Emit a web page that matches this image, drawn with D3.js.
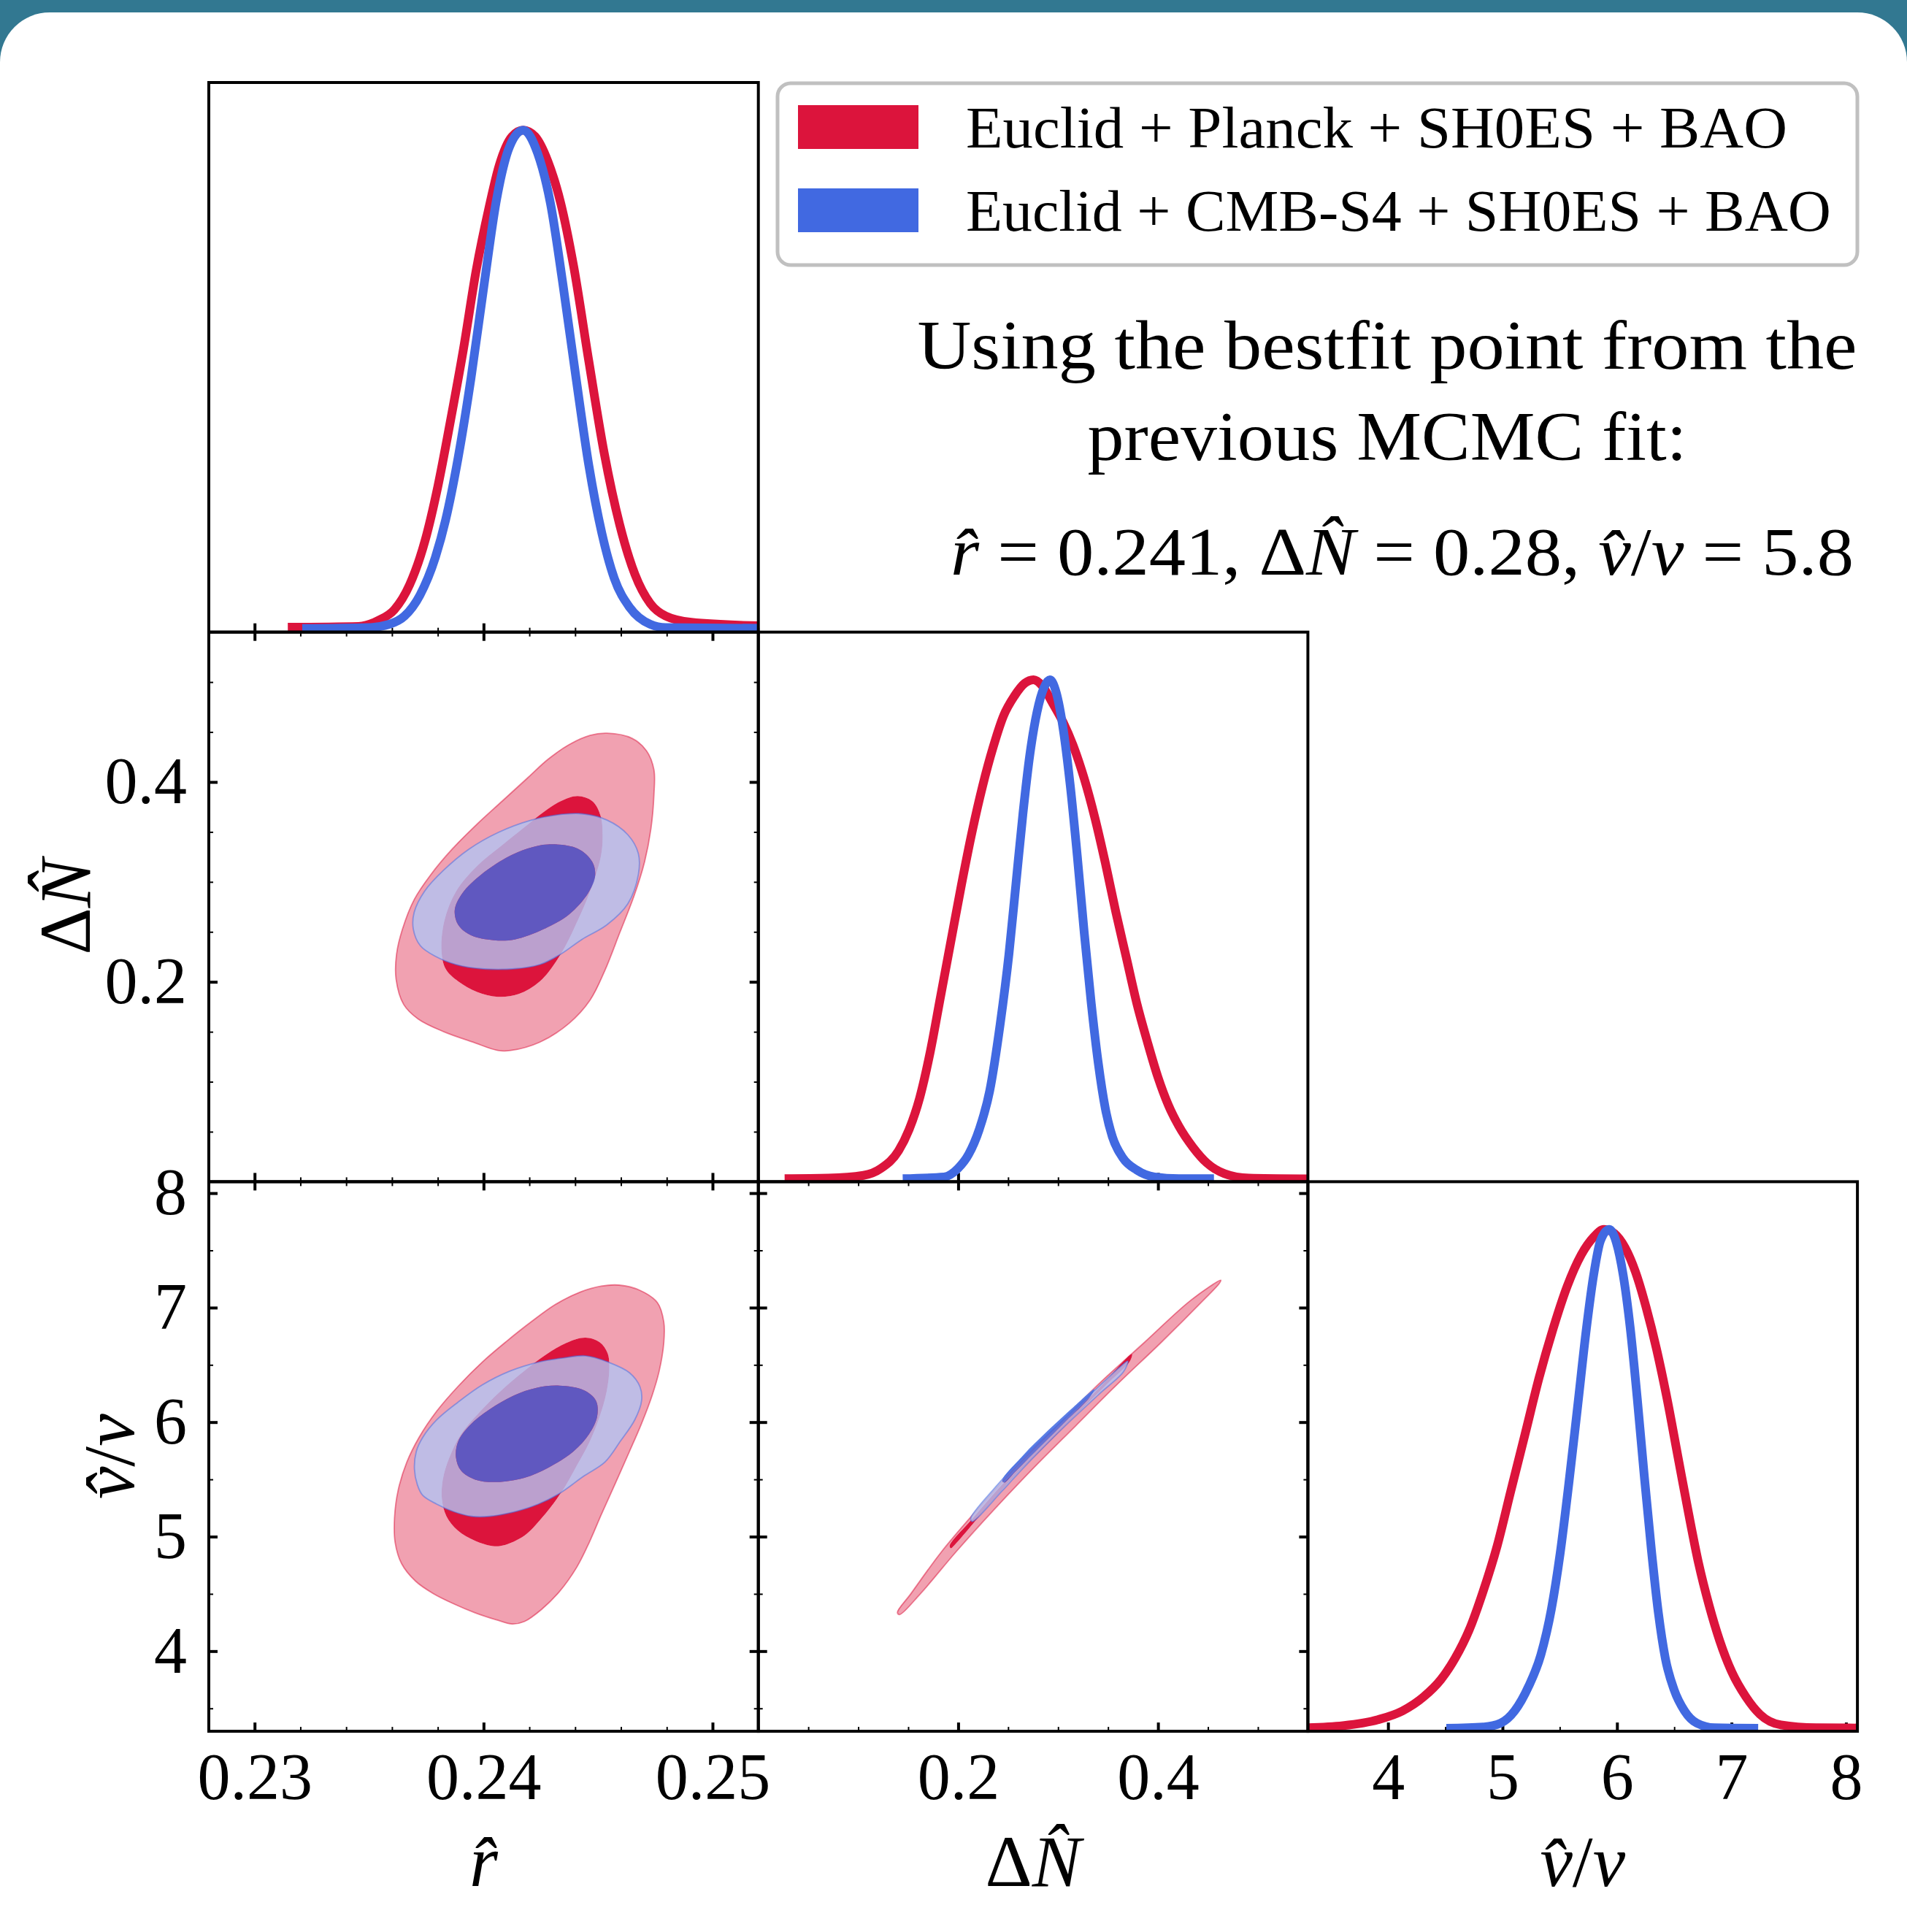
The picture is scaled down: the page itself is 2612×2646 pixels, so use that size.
<!DOCTYPE html>
<html><head><meta charset="utf-8">
<script src="https://cdn.jsdelivr.net/npm/d3@7"></script>
<style>html,body{margin:0;padding:0;background:#327891;} svg{display:block}</style>
</head><body>
<svg id="chart" width="2612" height="2646"></svg>
<script>
// ================= DATA =================
const seriesNames = ["Euclid + Planck + SH0ES + BAO", "Euclid + CMB-S4 + SH0ES + BAO"];
const seriesColors = ["#DC143C", "#4169E1"];
const seriesPale = ["#f1a1b1", "#b3c3f3"];

const rRange = [0.228, 0.252];
const dnRange = [0.0, 0.55];
const vRange = [3.3, 8.1];
const pdfRange = [0, 1.095];

const rTicks = [0.23, 0.24, 0.25];
const rTickLabels = ["0.23", "0.24", "0.25"];
const dnTicks = [0.2, 0.4];
const dnTickLabels = ["0.2", "0.4"];
const vTicks = [4, 5, 6, 7, 8];
const vTickLabels = ["4", "5", "6", "7", "8"];

const titleLines = ["Using the bestfit point from the", "previous MCMC fit:"];
const bestfitParts = [["r\u0302", true], [" = 0.241, \u0394", false], ["N\u0302", true], [" = 0.28, ", false], ["v\u0302", true], ["/", false], ["v", true], [" = 5.8", false]];

// 1D marginals [x, normalised density]
const planck_r1D = [[0.23145,0.0096],[0.23454,0.0113],[0.23543,0.0237],[0.23610,0.0445],[0.23677,0.0943],[0.23744,0.1816],[0.23800,0.2896],[0.23856,0.4224],[0.23912,0.5637],[0.23968,0.7215],[0.24024,0.8462],[0.24068,0.9292],[0.24124,0.9874],[0.24173,1.0],[0.24225,0.9874],[0.24281,0.9376],[0.24337,0.8545],[0.24393,0.7298],[0.24460,0.5388],[0.24527,0.3560],[0.24594,0.2148],[0.24661,0.1150],[0.24728,0.0570],[0.24795,0.0320],[0.24907,0.0195],[0.25200,0.0125]];
const cmbs4_r1D = [[0.23208,0.0071],[0.23498,0.0090],[0.23588,0.0155],[0.23655,0.0320],[0.23722,0.0735],[0.23789,0.1483],[0.23834,0.2231],[0.23889,0.3477],[0.23945,0.5056],[0.24001,0.6883],[0.24057,0.8628],[0.24113,0.9666],[0.24173,1.0],[0.24236,0.9541],[0.24292,0.8545],[0.24348,0.6883],[0.24404,0.5056],[0.24460,0.3311],[0.24516,0.1982],[0.24571,0.1068],[0.24639,0.0486],[0.24728,0.0155],[0.24795,0.0090],[0.25200,0.0075]];
const planck_dn1D = [[0.0263,0.0060],[0.0702,0.0070],[0.1052,0.0126],[0.1228,0.0266],[0.1403,0.0615],[0.1508,0.1035],[0.1614,0.1664],[0.1719,0.2573],[0.1824,0.3692],[0.1929,0.4811],[0.2034,0.5930],[0.2140,0.6979],[0.2245,0.7888],[0.2350,0.8657],[0.2455,0.9287],[0.2561,0.9671],[0.2666,0.9930],[0.2754,1.0],[0.2841,0.9881],[0.2946,0.9531],[0.3052,0.9147],[0.3157,0.8657],[0.3262,0.8028],[0.3367,0.7259],[0.3473,0.6350],[0.3578,0.5371],[0.3683,0.4462],[0.3788,0.3552],[0.3894,0.2783],[0.3999,0.2084],[0.4104,0.1524],[0.4209,0.1105],[0.4350,0.0685],[0.4490,0.0371],[0.4665,0.0161],[0.4911,0.0070],[0.5500,0.0055]];
const cmbs4_dn1D = [[0.1445,0.0060],[0.1859,0.0095],[0.1999,0.0266],[0.2105,0.0545],[0.2210,0.1035],[0.2315,0.1804],[0.2420,0.3133],[0.2508,0.4531],[0.2578,0.5930],[0.2648,0.7329],[0.2718,0.8517],[0.2789,0.9357],[0.2859,0.9846],[0.2918,1.0],[0.2982,0.9741],[0.3052,0.9007],[0.3122,0.7888],[0.3192,0.6490],[0.3262,0.4951],[0.3332,0.3552],[0.3402,0.2364],[0.3473,0.1455],[0.3543,0.0895],[0.3648,0.0476],[0.3788,0.0231],[0.3964,0.0095],[0.4209,0.0060],[0.4560,0.0060]];
const planck_v1D = [[3.300,0.0070],[3.606,0.0112],[3.912,0.0231],[4.126,0.0406],[4.310,0.0685],[4.463,0.1035],[4.586,0.1455],[4.708,0.2014],[4.830,0.2783],[4.953,0.3692],[5.075,0.4811],[5.198,0.5930],[5.320,0.7049],[5.443,0.8028],[5.565,0.8867],[5.688,0.9497],[5.795,0.9846],[5.886,1.0],[5.978,0.9916],[6.070,0.9636],[6.162,0.9147],[6.254,0.8448],[6.346,0.7608],[6.437,0.6629],[6.529,0.5510],[6.621,0.4392],[6.713,0.3343],[6.805,0.2503],[6.897,0.1804],[7.004,0.1175],[7.126,0.0685],[7.249,0.0336],[7.432,0.0126],[7.738,0.0070],[8.100,0.0065]];
const cmbs4_v1D = [[4.509,0.0060],[4.830,0.0085],[4.983,0.0161],[5.106,0.0406],[5.228,0.0895],[5.335,0.1524],[5.427,0.2434],[5.504,0.3552],[5.580,0.4951],[5.657,0.6490],[5.733,0.8028],[5.795,0.9077],[5.856,0.9776],[5.932,1.0],[5.994,0.9741],[6.055,0.9077],[6.116,0.8028],[6.177,0.6629],[6.238,0.5091],[6.300,0.3622],[6.361,0.2364],[6.422,0.1455],[6.499,0.0825],[6.590,0.0406],[6.698,0.0161],[6.851,0.0070],[7.233,0.0060]];

// 2D contours (95% outer, 68% inner) as closed outlines [x, y]
const planck_rdn_95 = [[0.24539,0.4488],[0.24648,0.4437],[0.24712,0.4311],[0.24744,0.4122],[0.24744,0.3871],[0.24731,0.3535],[0.24703,0.3200],[0.24658,0.2865],[0.24594,0.2487],[0.24529,0.2110],[0.24465,0.1817],[0.24374,0.1586],[0.24246,0.1397],[0.24118,0.1313],[0.24063,0.1313],[0.23953,0.1397],[0.23825,0.1502],[0.23715,0.1627],[0.23651,0.1774],[0.23618,0.2026],[0.23620,0.2277],[0.23646,0.2529],[0.23697,0.2823],[0.23770,0.3074],[0.23862,0.3326],[0.23971,0.3577],[0.24081,0.3808],[0.24191,0.4038],[0.24282,0.4228],[0.24374,0.4374],[0.24465,0.4466]];
const planck_rdn_68 = [[0.24411,0.3859],[0.24475,0.3808],[0.24511,0.3662],[0.24520,0.3452],[0.24511,0.3242],[0.24465,0.2906],[0.24411,0.2613],[0.24337,0.2277],[0.24246,0.2005],[0.24154,0.1879],[0.24063,0.1850],[0.23971,0.1900],[0.23889,0.2005],[0.23834,0.2131],[0.23816,0.2320],[0.23829,0.2613],[0.23880,0.2906],[0.23971,0.3158],[0.24081,0.3368],[0.24172,0.3535],[0.24264,0.3703],[0.24337,0.3808]];
const cmbs4_rdn_95 = [[0.24429,0.3682],[0.24539,0.3619],[0.24630,0.3472],[0.24676,0.3284],[0.24676,0.3074],[0.24630,0.2781],[0.24539,0.2571],[0.24429,0.2424],[0.24337,0.2277],[0.24246,0.2173],[0.24136,0.2131],[0.23990,0.2131],[0.23880,0.2173],[0.23788,0.2257],[0.23724,0.2361],[0.23693,0.2529],[0.23697,0.2697],[0.23742,0.2906],[0.23825,0.3116],[0.23935,0.3326],[0.24063,0.3494],[0.24209,0.3619],[0.24319,0.3670]];
const cmbs4_rdn_68 = [[0.24282,0.3376],[0.24411,0.3334],[0.24475,0.3200],[0.24487,0.3053],[0.24456,0.2886],[0.24374,0.2676],[0.24264,0.2529],[0.24136,0.2424],[0.24045,0.2416],[0.23944,0.2467],[0.23889,0.2571],[0.23874,0.2718],[0.23907,0.2886],[0.23990,0.3074],[0.24099,0.3242],[0.24191,0.3334]];

const planck_rv_95 = [[0.24591,7.197],[0.24683,7.151],[0.24759,7.044],[0.24787,6.876],[0.24787,6.692],[0.24767,6.447],[0.24736,6.233],[0.24690,5.988],[0.24637,5.743],[0.24576,5.468],[0.24514,5.192],[0.24461,4.947],[0.24407,4.733],[0.24331,4.519],[0.24254,4.366],[0.24178,4.259],[0.24124,4.237],[0.24055,4.274],[0.23963,4.335],[0.23871,4.412],[0.23780,4.503],[0.23703,4.611],[0.23642,4.764],[0.23614,4.947],[0.23611,5.162],[0.23627,5.406],[0.23665,5.651],[0.23718,5.866],[0.23795,6.095],[0.23887,6.309],[0.23994,6.524],[0.24101,6.707],[0.24208,6.876],[0.24315,7.029],[0.24422,7.136],[0.24514,7.188]];
const planck_rv_68 = [[0.24445,6.738],[0.24507,6.698],[0.24542,6.600],[0.24549,6.462],[0.24537,6.263],[0.24507,6.049],[0.24461,5.820],[0.24407,5.621],[0.24346,5.406],[0.24254,5.162],[0.24178,5.008],[0.24086,4.923],[0.24040,4.917],[0.23963,4.963],[0.23887,5.054],[0.23838,5.177],[0.23818,5.330],[0.23822,5.498],[0.23849,5.682],[0.23902,5.896],[0.23979,6.080],[0.24070,6.263],[0.24178,6.447],[0.24269,6.585],[0.24361,6.692]];
const cmbs4_rv_95 = [[0.24445,6.579],[0.24545,6.524],[0.24637,6.432],[0.24683,6.309],[0.24690,6.187],[0.24660,6.019],[0.24598,5.835],[0.24530,5.651],[0.24438,5.529],[0.24331,5.376],[0.24239,5.284],[0.24147,5.223],[0.24025,5.177],[0.23948,5.177],[0.23871,5.217],[0.23795,5.284],[0.23734,5.361],[0.23711,5.452],[0.23698,5.590],[0.23706,5.743],[0.23734,5.866],[0.23795,6.019],[0.23887,6.172],[0.23994,6.325],[0.24116,6.447],[0.24239,6.524],[0.24346,6.560]];
const cmbs4_rv_68 = [[0.24331,6.319],[0.24438,6.279],[0.24491,6.187],[0.24496,6.049],[0.24461,5.896],[0.24392,5.743],[0.24285,5.605],[0.24178,5.514],[0.24055,5.477],[0.23963,5.498],[0.23902,5.575],[0.23879,5.697],[0.23890,5.835],[0.23940,5.973],[0.24025,6.110],[0.24132,6.233],[0.24231,6.300]];

const planck_dnv_95 = [[0.1392,4.338],[0.1527,4.502],[0.1833,4.868],[0.2189,5.234],[0.2567,5.600],[0.2986,5.966],[0.3405,6.332],[0.3866,6.698],[0.4328,7.064],[0.4629,7.239],[0.4612,7.210],[0.4453,7.064],[0.4034,6.698],[0.3594,6.332],[0.3174,5.966],[0.2755,5.600],[0.2357,5.234],[0.1979,4.868],[0.1623,4.502],[0.1413,4.319]];
const planck_dnv_68 = [[0.1916,4.923],[0.2147,5.161],[0.2440,5.454],[0.2776,5.746],[0.3111,6.039],[0.3447,6.332],[0.3677,6.551],[0.3740,6.595],[0.3719,6.533],[0.3489,6.332],[0.3195,6.076],[0.2860,5.783],[0.2524,5.490],[0.2231,5.198],[0.1979,4.941],[0.1925,4.898]];
const cmbs4_dnv_95 = [[0.2126,5.161],[0.2357,5.417],[0.2650,5.691],[0.2985,5.966],[0.3321,6.240],[0.3614,6.478],[0.3698,6.533],[0.3656,6.442],[0.3405,6.240],[0.3069,5.966],[0.2734,5.673],[0.2440,5.399],[0.2189,5.161],[0.2138,5.132]];
const cmbs4_dnv_68 = [[0.2440,5.490],[0.2650,5.710],[0.2902,5.929],[0.3153,6.131],[0.3363,6.288],[0.3321,6.222],[0.3069,6.002],[0.2818,5.783],[0.2566,5.563],[0.2461,5.472]];

// ================= LAYOUT =================
const W = 2612, H = 2646;
const X0 = 286, Y0 = 113, S = 752.7;
const SERIF = "'Liberation Serif','DejaVu Serif',serif";

const svg = d3.select("#chart");
svg.append("rect").attr("width", W).attr("height", H).attr("fill", "#327891");
svg.append("rect").attr("x", 0).attr("y", 17).attr("width", W).attr("height", H + 60)
  .attr("rx", 68).attr("ry", 68).attr("fill", "#ffffff");

const xR = d3.scaleLinear().domain(rRange).range([X0, X0 + S]);
const xDN = d3.scaleLinear().domain(dnRange).range([X0 + S, X0 + 2 * S]);
const xV = d3.scaleLinear().domain(vRange).range([X0 + 2 * S, X0 + 3 * S]);
const yDN = d3.scaleLinear().domain(dnRange).range([Y0 + 2 * S, Y0 + S]);
const yV = d3.scaleLinear().domain(vRange).range([Y0 + 3 * S, Y0 + 2 * S]);
const yPdf = [0, 1, 2].map(i => d3.scaleLinear().domain(pdfRange).range([Y0 + (i + 1) * S, Y0 + i * S]));

const xScales = [xR, xDN, xV];
const xMajors = [rTicks, dnTicks, vTicks];
const xMinorCount = [12, 11, 10];
const yScales = [null, yDN, yV];

const defs = svg.append("defs");
function clipFor(col, row) {
  const id = `clip-${col}-${row}`;
  defs.append("clipPath").attr("id", id).append("rect")
    .attr("x", X0 + col * S).attr("y", Y0 + row * S).attr("width", S).attr("height", S);
  return `url(#${id})`;
}

function drawTicks(g, scale, orient, pos, majors, minorCount) {
  const minors = scale.ticks(minorCount).filter(t => !majors.some(m => Math.abs(m - t) < 1e-9));
  const axisFn = { bottom: d3.axisBottom, top: d3.axisTop, left: d3.axisLeft, right: d3.axisRight }[orient];
  const tr = (orient === "bottom" || orient === "top") ? `translate(0,${pos})` : `translate(${pos},0)`;
  [[majors, 12, 4], [minors, 6, 2]].forEach(([vals, len, sw]) => {
    const a = g.append("g").attr("transform", tr)
      .call(axisFn(scale).tickValues(vals).tickSize(-len).tickFormat(""));
    a.select(".domain").remove();
    a.selectAll("text").remove();
    a.selectAll("line").attr("stroke", "#000").attr("stroke-width", sw);
  });
}

const gTicks = svg.append("g");
const gData = svg.append("g");
const gSpines = svg.append("g");

// ---- 1D panels ----
const oneD = [
  { i: 0, sets: [planck_r1D, cmbs4_r1D] },
  { i: 1, sets: [planck_dn1D, cmbs4_dn1D] },
  { i: 2, sets: [planck_v1D, cmbs4_v1D] }
];
oneD.forEach(p => {
  const xs = xScales[p.i], ys = yPdf[p.i];
  drawTicks(gTicks, xs, "bottom", Y0 + (p.i + 1) * S, xMajors[p.i], xMinorCount[p.i]);
  const line = d3.line().x(d => xs(d[0])).y(d => ys(d[1])).curve(d3.curveMonotoneX);
  const g = gData.append("g").attr("clip-path", clipFor(p.i, p.i));
  p.sets.forEach((s, k) => {
    g.append("path").attr("d", line(s)).attr("fill", "none")
      .attr("stroke", seriesColors[k]).attr("stroke-width", 12).attr("stroke-linejoin", "round");
  });
});

// ---- 2D panels (filled bands: outer ring between levels + inner core) ----
const twoD = [
  { col: 0, row: 1, sets: [[planck_rdn_95, planck_rdn_68], [cmbs4_rdn_95, cmbs4_rdn_68]] },
  { col: 0, row: 2, sets: [[planck_rv_95, planck_rv_68], [cmbs4_rv_95, cmbs4_rv_68]] },
  { col: 1, row: 2, sets: [[planck_dnv_95, planck_dnv_68], [cmbs4_dnv_95, cmbs4_dnv_68]] }
];
twoD.forEach(p => {
  const xs = xScales[p.col], ys = yScales[p.row];
  const top = Y0 + p.row * S, bot = Y0 + (p.row + 1) * S;
  const left = X0 + p.col * S, right = X0 + (p.col + 1) * S;
  drawTicks(gTicks, xs, "bottom", bot, xMajors[p.col], xMinorCount[p.col]);
  drawTicks(gTicks, xs, "top", top, xMajors[p.col], xMinorCount[p.col]);
  drawTicks(gTicks, ys, "left", left, xMajors[p.row], xMinorCount[p.row]);
  drawTicks(gTicks, ys, "right", right, xMajors[p.row], xMinorCount[p.row]);
  const line = d3.line().x(d => xs(d[0])).y(d => ys(d[1])).curve(d3.curveCatmullRomClosed.alpha(0.5));
  const g = gData.append("g").attr("clip-path", clipFor(p.col, p.row));
  p.sets.forEach((pair, k) => {
    const op = k === 0 ? 1 : 0.8;
    g.append("path").attr("d", line(pair[0]) + line(pair[1])).attr("fill-rule", "evenodd")
      .attr("fill", seriesPale[k]).attr("fill-opacity", op).attr("stroke", "none");
    g.append("path").attr("d", line(pair[1])).attr("fill", seriesColors[k]).attr("fill-opacity", op)
      .attr("stroke", "none");
    g.append("path").attr("d", line(pair[0])).attr("fill", "none")
      .attr("stroke", seriesColors[k]).attr("stroke-opacity", 0.5).attr("stroke-width", 1.8);
  });
});

// ---- spines ----
const panels = [[0,0],[0,1],[1,1],[0,2],[1,2],[2,2]];
panels.forEach(([c, r]) => {
  gSpines.append("rect").attr("x", X0 + c * S).attr("y", Y0 + r * S).attr("width", S).attr("height", S)
    .attr("fill", "none").attr("stroke", "#000").attr("stroke-width", 4);
});

// ---- tick labels ----
const xLabelSets = [rTickLabels, dnTickLabels, vTickLabels];
xScales.forEach((xs, i) => {
  const a = svg.append("g").attr("transform", `translate(0,${Y0 + 3 * S})`)
    .call(d3.axisBottom(xs).tickValues(xMajors[i]).tickSize(0).tickPadding(29)
      .tickFormat((d, j) => xLabelSets[i][j]));
  a.select(".domain").remove();
  a.selectAll("text").attr("font-family", SERIF).attr("font-size", 90).attr("fill", "#000");
});
[[yDN, dnTicks, dnTickLabels], [yV, vTicks, vTickLabels]].forEach(([ys, tv, tl]) => {
  const a = svg.append("g").attr("transform", `translate(${X0},0)`)
    .call(d3.axisLeft(ys).tickValues(tv).tickSize(0).tickPadding(30).tickFormat((d, j) => tl[j]));
  a.select(".domain").remove();
  a.selectAll("text").attr("font-family", SERIF).attr("font-size", 90).attr("fill", "#000");
});

// ---- axis labels ----
function mathLabel(parent, parts, attrs) {
  const t = parent.append("text").attr("font-family", SERIF).attr("font-size", 100).attr("fill", "#000");
  Object.entries(attrs).forEach(([k, v]) => t.attr(k, v));
  parts.forEach(([s, it]) => t.append("tspan").attr("font-style", it ? "italic" : "normal").text(s));
  return t;
}
const rLab = [["r\u0302", true]];
const dnLab = [["\u0394", false], ["N\u0302", true]];
const vLab = [["v\u0302", true], ["/", false], ["v", true]];
const labBaseline = 2583;
mathLabel(svg, rLab, { x: xR(0.24), y: labBaseline, "text-anchor": "middle" });
mathLabel(svg, dnLab, { x: (X0 + S) + S / 2, y: labBaseline, "text-anchor": "middle" });
mathLabel(svg, vLab, { x: (X0 + 2 * S) + S / 2, y: labBaseline, "text-anchor": "middle" });
mathLabel(svg, dnLab, { "text-anchor": "middle", transform: `translate(123,${Y0 + 1.5 * S}) rotate(-90)` });
mathLabel(svg, vLab, { "text-anchor": "middle", transform: `translate(183,${Y0 + 2.5 * S}) rotate(-90)` });

// ---- legend ----
function fitText(node, target) {
  const w = node.getComputedTextLength();
  if (Math.abs(w - target) / target > 0.015) {
    node.setAttribute("textLength", target);
    node.setAttribute("lengthAdjust", "spacingAndGlyphs");
  }
}
const gLeg = svg.append("g");
gLeg.append("rect").attr("x", 1065).attr("y", 114).attr("width", 1479).attr("height", 249)
  .attr("rx", 18).attr("fill", "#fff").attr("stroke", "#c0c0c0").attr("stroke-width", 5);
const legRows = [{ y: 144, base: 202, w: 1125 }, { y: 258, base: 316, w: 1185 }];
seriesNames.forEach((name, k) => {
  gLeg.append("rect").attr("x", 1093).attr("y", legRows[k].y).attr("width", 165).attr("height", 60)
    .attr("fill", seriesColors[k]);
  const t = gLeg.append("text").attr("x", 1323).attr("y", legRows[k].base)
    .attr("font-family", SERIF).attr("font-size", 80).attr("fill", "#000").text(name);
  fitText(t.node(), legRows[k].w);
});

// ---- annotation ----
const t1 = svg.append("text").attr("x", 1900).attr("y", 505).attr("text-anchor", "middle")
  .attr("font-family", SERIF).attr("font-size", 95).attr("fill", "#000").text(titleLines[0]);
fitText(t1.node(), 1287);
const t2 = svg.append("text").attr("x", 1900).attr("y", 630).attr("text-anchor", "middle")
  .attr("font-family", SERIF).attr("font-size", 95).attr("fill", "#000").text(titleLines[1]);
fitText(t2.node(), 821);
const t3 = svg.append("text").attr("x", 1302).attr("y", 787)
  .attr("font-family", SERIF).attr("font-size", 94).attr("fill", "#000");
bestfitParts.forEach(([s, it]) => t3.append("tspan").attr("font-style", it ? "italic" : "normal").text(s));
fitText(t3.node(), 1237);
</script>
</body></html>
